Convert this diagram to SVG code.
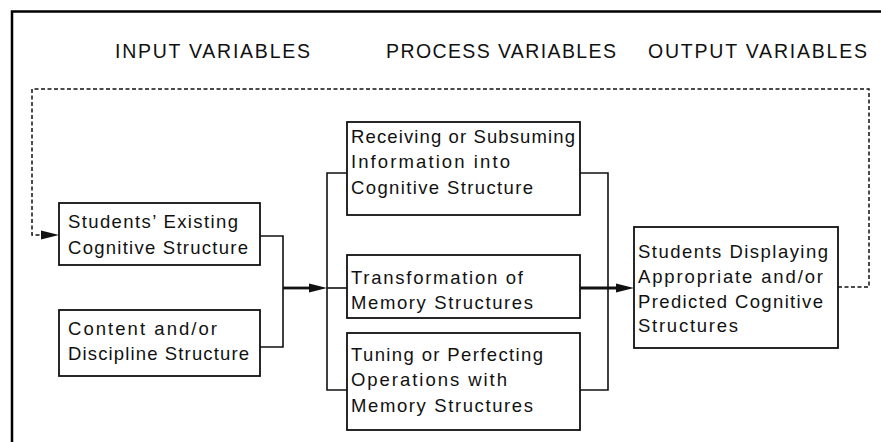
<svg xmlns="http://www.w3.org/2000/svg" width="881" height="442" viewBox="0 0 881 442">
  <style>
    .bg { fill: #ffffff; }
    .frame { fill: none; stroke: #000; stroke-width: 2.5; }
    .box { fill: #ffffff; stroke: #111; stroke-width: 1.8; }
    .line { fill: none; stroke: #111; stroke-width: 1.6; }
    .thick { fill: none; stroke: #111; stroke-width: 2.8; }
    .dash { fill: none; stroke: #111; stroke-width: 1.5; stroke-dasharray: 4 2.5; }
    .head { fill: #111; }
    .title { font-family: "Liberation Sans", Arial, sans-serif; font-size: 19.5px; fill: #111; }
    .label { font-family: "Liberation Sans", Arial, sans-serif; font-size: 18.5px; fill: #111; }
  </style>

  <rect class="bg" x="0" y="0" width="881" height="442"/>

  <!-- outer frame: top rule and left rule -->
  <path class="frame" d="M12,442 V11.5 H881"/>

  <!-- column headings -->
  <g id="headings">
    <text class="title" x="115" y="58" textLength="195">INPUT VARIABLES</text>
    <text class="title" x="386" y="58" textLength="230">PROCESS VARIABLES</text>
    <text class="title" x="648" y="58" textLength="219">OUTPUT VARIABLES</text>
  </g>

  <!-- connectors -->
  <g id="connectors">
    <!-- inputs merge -->
    <path class="line" d="M260,236 H283 V347 H260"/>
    <path class="thick" d="M283,288 H312"/>
    <polygon class="head" points="327,288 309,283.5 309,292.5"/>
    <!-- process bus -->
    <path class="line" d="M347,173 H327 V390 H347"/>
    <path class="line" d="M327,288 H347"/>
    <!-- process outputs merge -->
    <path class="line" d="M580,173 H608 V390 H580"/>
    <path class="thick" d="M580,288 H619"/>
    <polygon class="head" points="634,288 616,283.5 616,292.5"/>
    <!-- feedback loop -->
    <path class="dash" d="M838,287 H869 V89 H32 V235 H44"/>
    <polygon class="head" points="59,235 41,230.5 41,239.5"/>
  </g>

  <g id="existing-structure">
    <rect class="box" x="59" y="203" width="201" height="62"/>
    <text class="label" x="68" y="228" textLength="170">Students’ Existing</text>
    <text class="label" x="68" y="254" textLength="180">Cognitive Structure</text>
  </g>

  <g id="discipline-structure">
    <rect class="box" x="59" y="310" width="201" height="66"/>
    <text class="label" x="68" y="335" textLength="149">Content and/or</text>
    <text class="label" x="68" y="360" textLength="181">Discipline Structure</text>
  </g>

  <g id="receiving">
    <rect class="box" x="347" y="122" width="233" height="93"/>
    <text class="label" x="351" y="143" textLength="224">Receiving or Subsuming</text>
    <text class="label" x="351" y="168" textLength="159">Information into</text>
    <text class="label" x="351" y="194" textLength="182">Cognitive Structure</text>
  </g>

  <g id="transformation">
    <rect class="box" x="347" y="255" width="233" height="63"/>
    <text class="label" x="351" y="284" textLength="172">Transformation of</text>
    <text class="label" x="351" y="309" textLength="182">Memory Structures</text>
  </g>

  <g id="tuning">
    <rect class="box" x="347" y="333" width="233" height="97"/>
    <text class="label" x="351" y="361" textLength="192">Tuning or Perfecting</text>
    <text class="label" x="351" y="386" textLength="156">Operations with</text>
    <text class="label" x="351" y="412" textLength="182">Memory Structures</text>
  </g>

  <g id="displaying">
    <rect class="box" x="634" y="227" width="204" height="121"/>
    <text class="label" x="638" y="258" textLength="190">Students Displaying</text>
    <text class="label" x="638" y="283" textLength="185">Appropriate and/or</text>
    <text class="label" x="638" y="308" textLength="185">Predicted Cognitive</text>
    <text class="label" x="638" y="332" textLength="100">Structures</text>
  </g>
</svg>
